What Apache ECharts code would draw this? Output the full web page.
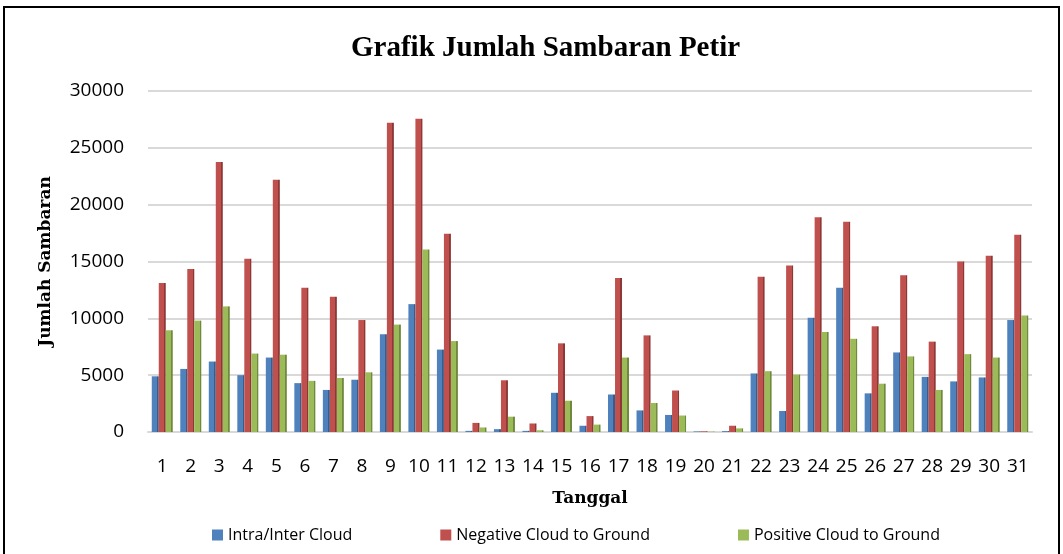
<!DOCTYPE html>
<html>
<head>
<meta charset="utf-8">
<script src="https://cdn.jsdelivr.net/npm/echarts@6/dist/echarts.min.js"></script>
<style>
  html, body { margin: 0; padding: 0; background: #fff; }
  #chart { width: 1063px; height: 554px; }
</style>
</head>
<body>
<div id="chart"></div>
<script>
const days = ['1','2','3','4','5','6','7','8','9','10','11','12','13','14','15','16',
    '17','18','19','20','21','22','23','24','25','26','27','28','29','30','31'];

const intraCloud = [4900, 5550, 6200, 5000, 6550, 4300, 3700, 4600, 8600, 11250, 7250, 100,
    250, 100, 3450, 550, 3300, 1900, 1500, 50, 80, 5150, 1850, 10050, 12700, 3400,
    7000, 4850, 4450, 4800, 9850];
const negativeCG = [13100, 14350, 23750, 15250, 22200, 12700, 11900, 9850, 27200, 27550, 17450, 800,
    4550, 750, 7800, 1400, 13550, 8500, 3650, 60, 550, 13650, 14650, 18900, 18500, 9300,
    13800, 7950, 15000, 15500, 17350];
const positiveCG = [8950, 9800, 11050, 6900, 6800, 4500, 4750, 5250, 9450, 16050, 8000, 400,
    1350, 150, 2750, 650, 6550, 2550, 1450, 30, 320, 5350, 5050, 8800, 8200, 4250,
    6650, 3700, 6850, 6550, 10250];

const names = ['Intra/Inter Cloud', 'Negative Cloud to Ground', 'Positive Cloud to Ground'];
const colors = ['#4f81bd', '#c0504d', '#9bbb59'];
const darkColors = ['#385d8a', '#8c3836', '#71893f'];

// fake the office 3d look: darker strip on the right side of each bar
function barFill(i) {
    return {
        type: 'linear', x: 0, y: 0, x2: 1, y2: 0,
        colorStops: [
            {offset: 0, color: colors[i]},
            {offset: 0.78, color: colors[i]},
            {offset: 0.78, color: darkColors[i]},
            {offset: 1, color: darkColors[i]}
        ]
    };
}

const chart = echarts.init(document.getElementById('chart'), null, {renderer: 'canvas'});

const series = [intraCloud, negativeCG, positiveCG].map((data, i) => ({
    name: names[i],
    type: 'bar',
    data: data,
    barWidth: 7,
    barGap: '0%',
    itemStyle: {color: barFill(i)}
}));

chart.setOption({
    animation: false,
    backgroundColor: '#fff',
    title: {
        text: 'Grafik Jumlah Sambaran Petir',
        left: 346,
        top: 29,
        textStyle: {
            fontFamily: 'Liberation Serif',
            fontWeight: 'bold',
            fontSize: 29,
            color: '#000'
        }
    },
    legend: {
        bottom: 6,
        left: 207,
        itemWidth: 11,
        itemHeight: 11,
        itemGap: 88,
        icon: 'rect',
        textStyle: {fontFamily: 'Open Sans', fontSize: 16, color: '#000'},
        data: names.map((n, i) => ({name: n, itemStyle: {color: colors[i]}}))
    },
    grid: {left: 148, right: 31, top: 91, bottom: 122},
    xAxis: {
        type: 'category',
        data: days,
        name: 'Tanggal',
        nameLocation: 'middle',
        nameGap: 58,
        nameTextStyle: {fontFamily: 'DejaVu Serif', fontWeight: 'bold', fontSize: 17, color: '#000'},
        axisLine: {show: true, lineStyle: {color: '#d9d9d9', width: 2}},
        axisTick: {show: false},
        axisLabel: {fontFamily: 'Open Sans', fontSize: 19, color: '#000', margin: 25, interval: 0}
    },
    yAxis: {
        type: 'value',
        min: 0,
        max: 30000,
        interval: 5000,
        name: 'Jumlah Sambaran',
        nameLocation: 'middle',
        nameGap: 94,
        nameTextStyle: {fontFamily: 'DejaVu Serif', fontWeight: 'bold', fontSize: 17, color: '#000'},
        axisLine: {show: false},
        axisTick: {show: false},
        axisLabel: {
            fontFamily: 'Open Sans', fontSize: 19, color: '#000', margin: 24,
            formatter: v => String(v)
        },
        splitLine: {lineStyle: {color: '#d9d9d9', width: 2}}
    },
    series: series,
    graphic: [{
        type: 'rect',
        shape: {x: 4, y: 7, width: 1055, height: 560},
        style: {fill: 'none', stroke: '#000', lineWidth: 2}
    }]
});
</script>
</body>
</html>
